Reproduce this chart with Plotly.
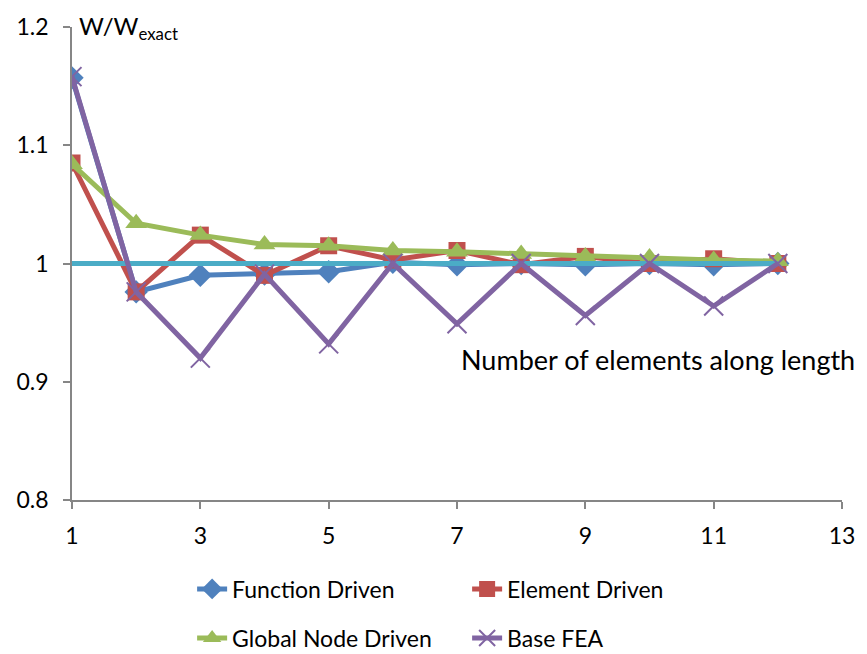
import plotly.graph_objects as go

# Number of elements along the beam length
elements = [1, 2, 3, 4, 5, 6, 7, 8, 9, 10, 11, 12]

# Normalised deflection W/W_exact for each formulation
function_driven = [1.157, 0.976, 0.990, 0.991, 0.993, 1.001, 0.999, 1.000, 0.999, 1.000, 0.999, 1.000]
element_driven = [1.085, 0.976, 1.024, 0.990, 1.015, 1.003, 1.011, 0.999, 1.006, 1.000, 1.004, 1.000]
global_node_driven = [1.084, 1.034, 1.024, 1.016, 1.015, 1.011, 1.010, 1.008, 1.006, 1.005, 1.003, 1.002]
base_fea = [1.158, 0.976, 0.920, 0.991, 0.932, 1.000, 0.949, 1.000, 0.956, 1.000, 0.964, 1.000]
exact = [1.0] * len(elements)

x_ticks = [1, 3, 5, 7, 9, 11, 13]
y_ticks = [0.8, 0.9, 1.0, 1.1, 1.2]
y_tick_text = ["0.8", "0.9", "1", "1.1", "1.2"]

FONT = "Lato, Open Sans, sans-serif"
LW = 5

fig = go.Figure()

fig.add_trace(go.Scatter(
    x=elements, y=function_driven, name="Function Driven", mode="lines+markers",
    line=dict(color="#4F81BD", width=LW),
    marker=dict(symbol="diamond", size=18, color="#4F81BD"),
    legend="legend",
))
fig.add_trace(go.Scatter(
    x=elements, y=element_driven, name="Element Driven", mode="lines+markers",
    line=dict(color="#C0504D", width=LW),
    marker=dict(symbol="square", size=17, color="#C0504D"),
    legend="legend",
))
fig.add_trace(go.Scatter(
    x=elements, y=global_node_driven, name="Global Node Driven", mode="lines+markers",
    line=dict(color="#9BBB59", width=LW),
    marker=dict(symbol="triangle-up", size=19, color="#9BBB59"),
    legend="legend2",
))
fig.add_trace(go.Scatter(
    x=elements, y=exact, name="Exact", mode="lines",
    line=dict(color="#4BACC6", width=LW),
    showlegend=False,
))
fig.add_trace(go.Scatter(
    x=elements, y=base_fea, name="Base FEA", mode="lines+markers",
    line=dict(color="#8064A2", width=LW),
    marker=dict(symbol="x-thin", size=19, color="#8064A2",
                line=dict(color="#8064A2", width=2)),
    legend="legend2",
))

legend_common = dict(
    orientation="h", xanchor="left", yanchor="middle", yref="container",
    font=dict(family=FONT, size=23, color="#000000"),
    entrywidthmode="pixels", entrywidth=230,
    bgcolor="rgba(0,0,0,0)", itemclick=False, itemdoubleclick=False,
)

fig.update_layout(
    width=867, height=654,
    margin=dict(l=72, r=21, t=22, b=154),
    paper_bgcolor="white", plot_bgcolor="white",
    font=dict(family=FONT, size=23, color="#000000"),
    xaxis=dict(
        range=[1, 13], tickvals=x_ticks, showgrid=False, zeroline=False,
        showline=True, linecolor="#868686", linewidth=1.5,
        ticks="outside", ticklen=7, tickcolor="#868686", tickwidth=1.5,
        tickfont=dict(family=FONT, size=23), ticklabelstandoff=8,
    ),
    yaxis=dict(
        range=[0.8, 1.2], tickvals=y_ticks, ticktext=y_tick_text,
        showgrid=False, zeroline=False,
        showline=True, linecolor="#868686", linewidth=1.5,
        ticks="outside", ticklen=7, tickcolor="#868686", tickwidth=1.5,
        tickfont=dict(family=FONT, size=23), ticklabelstandoff=10,
    ),
    legend=dict(x=0.156, y=1 - 589 / 654, **legend_common),
    legend2=dict(x=0.156, y=1 - 638 / 654, **legend_common),
    annotations=[
        dict(text="W/W<sub>exact</sub>", xref="paper", yref="paper",
             x=0.006, y=1.0, xanchor="left", yanchor="middle", showarrow=False,
             font=dict(family=FONT, size=24)),
        dict(text="Number of elements along length", xref="paper", yref="paper",
             x=1.02, y=0.297, xanchor="right", yanchor="middle", showarrow=False,
             font=dict(family=FONT, size=27)),
    ],
)

fig.write_html("out.html")
